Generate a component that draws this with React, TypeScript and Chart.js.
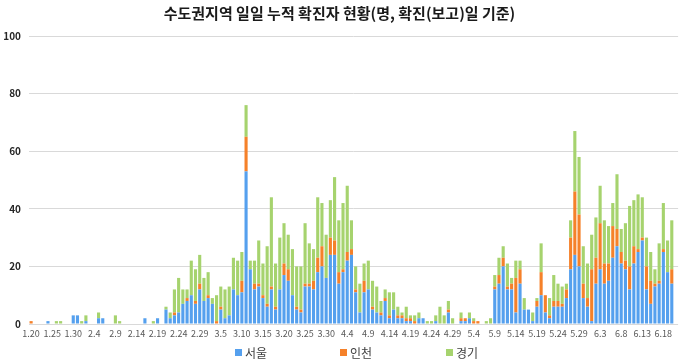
import React, { useEffect, useRef } from 'react';
import { Chart, registerables } from 'chart.js';

Chart.register(...registerables);

const chartTitle = '수도권지역 일일 누적 확진자 현황(명, 확진(보고)일 기준)';
const seriesNames = ['서울', '인천', '경기'];
const seriesColors = ['#55A0EE', '#F5812A', '#A6D36E'];

const categories = [
  '1.20', '1.21', '1.22', '1.23', '1.24', '1.25', '1.26', '1.27', '1.28', '1.29', '1.30', '1.31',
  '2.1', '2.2', '2.3', '2.4', '2.5', '2.6', '2.7', '2.8', '2.9', '2.10', '2.11', '2.12', '2.13', '2.14', '2.15', '2.16', '2.17', '2.18', '2.19', '2.20', '2.21', '2.22', '2.23', '2.24', '2.25', '2.26', '2.27', '2.28', '2.29',
  '3.1', '3.2', '3.3', '3.4', '3.5', '3.6', '3.7', '3.8', '3.9', '3.10', '3.11', '3.12', '3.13', '3.14', '3.15', '3.16', '3.17', '3.18', '3.19', '3.20', '3.21', '3.22', '3.23', '3.24', '3.25', '3.26', '3.27', '3.28', '3.29', '3.30', '3.31',
  '4.1', '4.2', '4.3', '4.4', '4.5', '4.6', '4.7', '4.8', '4.9', '4.10', '4.11', '4.12', '4.13', '4.14', '4.15', '4.16', '4.17', '4.18', '4.19', '4.20', '4.21', '4.22', '4.23', '4.24', '4.25', '4.26', '4.27', '4.28', '4.29', '4.30',
  '5.1', '5.2', '5.3', '5.4', '5.5', '5.6', '5.7', '5.8', '5.9', '5.10', '5.11', '5.12', '5.13', '5.14', '5.15', '5.16', '5.17', '5.18', '5.19', '5.20', '5.21', '5.22', '5.23', '5.24', '5.25', '5.26', '5.27', '5.28', '5.29', '5.30', '5.31',
  '6.1', '6.2', '6.3', '6.4', '6.5', '6.6', '6.7', '6.8', '6.9', '6.10', '6.11', '6.12', '6.13', '6.14', '6.15', '6.16', '6.17', '6.18', '6.19', '6.20', '6.21',
];

// 서울
const seoul = [
  0, 0, 0, 0, 1, 0, 0, 0, 0, 0, 3, 3,
  0, 1, 0, 0, 2, 2, 0, 0, 0, 0, 0, 0, 0, 0, 0, 2, 0, 0, 2, 0, 5, 2, 3, 4, 7, 8, 10, 7, 12,
  8, 9, 7, 0, 5, 2, 3, 12, 10, 11, 53, 19, 12, 13, 9, 6, 12, 5, 12, 17, 15, 10, 5, 4, 13, 13, 12, 18, 20, 16, 24,
  24, 14, 18, 22, 24, 11, 4, 11, 12, 5, 4, 3, 8, 2, 5, 2, 2, 1, 1, 0, 2, 2, 0, 0, 1, 0, 0, 4, 0,
  0, 1, 1, 2, 0, 0, 0, 0, 0, 12, 14, 20, 12, 12, 4, 14, 5, 5, 1, 6, 10, 4, 2, 6, 6, 6, 9, 19, 24, 20, 9, 6,
  1, 14, 19, 14, 15, 23, 27, 21, 19, 12, 21, 25, 29, 12, 7, 13, 14, 25, 18, 14, 0,
];

// 인천
const incheon = [
  1, 0, 0, 0, 0, 0, 0, 0, 0, 0, 0, 0,
  0, 0, 0, 0, 0, 0, 0, 0, 0, 0, 0, 0, 0, 0, 0, 0, 0, 0, 0, 0, 0, 0, 1, 0, 0, 1, 0, 1, 2,
  0, 1, 0, 1, 1, 0, 0, 0, 0, 4, 12, 0, 2, 1, 1, 1, 1, 1, 0, 4, 4, 0, 1, 1, 1, 1, 3, 5, 7, 0, 6,
  5, 4, 1, 3, 2, 1, 0, 4, 0, 1, 0, 1, 1, 1, 0, 1, 1, 1, 1, 1, 0, 0, 0, 0, 0, 0, 0, 1, 0,
  0, 1, 1, 0, 1, 1, 0, 0, 0, 1, 3, 3, 1, 2, 12, 5, 0, 0, 0, 2, 8, 6, 1, 2, 2, 1, 3, 11, 22, 18, 5, 3,
  18, 9, 16, 7, 6, 11, 6, 4, 3, 8, 6, 1, 1, 8, 8, 1, 1, 1, 0, 5, 0,
];

// 경기
const gyeonggi = [
  0, 0, 0, 0, 0, 0, 1, 1, 0, 0, 0, 0,
  1, 2, 0, 0, 2, 0, 0, 0, 3, 1, 0, 0, 0, 0, 0, 0, 0, 1, 0, 0, 1, 2, 8, 12, 5, 3, 12, 11, 10,
  8, 8, 2, 9, 7, 10, 10, 11, 12, 10, 11, 3, 8, 15, 11, 20, 31, 15, 18, 14, 12, 16, 14, 15, 21, 14, 11, 21, 15, 15, 13,
  22, 18, 23, 23, 10, 8, 10, 6, 10, 9, 9, 4, 3, 8, 6, 3, 1, 4, 1, 2, 2, 0, 1, 1, 2, 6, 3, 3, 2,
  0, 2, 0, 2, 1, 0, 0, 1, 2, 4, 6, 4, 8, 2, 6, 3, 4, 0, 3, 1, 10, 0, 6, 9, 6, 6, 2, 6, 21, 20, 13, 12,
  12, 14, 13, 15, 13, 8, 19, 8, 13, 21, 16, 19, 14, 10, 10, 5, 13, 16, 11, 17, 0,
];

const yMin = 0;
const yMax = 100;
const yStep = 20;

const FONT = "'Noto Sans CJK KR', 'Noto Sans', sans-serif";

export default function App() {
  const canvasRef = useRef<HTMLCanvasElement | null>(null);

  useEffect(() => {
    document.body.style.margin = '0';
    const canvas = canvasRef.current;
    if (!canvas) return;
    const values = [seoul, incheon, gyeonggi];
    const chart = new Chart(canvas, {
      type: 'bar',
      data: {
        labels: categories,
        datasets: seriesNames.map((name, k) => ({
          label: name,
          data: values[k],
          backgroundColor: seriesColors[k],
          borderWidth: 0,
          barPercentage: 0.74,
          categoryPercentage: 1,
        })),
      },
      options: {
        responsive: false,
        animation: false,
        layout: { padding: { top: 0, left: 0, right: 1, bottom: 19 } },
        plugins: {
          legend: { display: false },
          tooltip: { enabled: false },
          title: {
            display: true,
            text: chartTitle,
            color: '#1a1a1a',
            font: { family: FONT, size: 15, weight: 'bold' },
            padding: { top: 4, bottom: 14 },
          },
        },
        scales: {
          x: {
            stacked: true,
            grid: { display: false, drawTicks: false },
            border: { display: false },
            ticks: {
              autoSkip: false,
              maxRotation: 0,
              minRotation: 0,
              padding: 4,
              color: '#595959',
              font: { family: FONT, size: 9 },
              callback: (_v: any, i: number) => (i % 5 === 0 ? categories[i] : ''),
            },
            afterFit: (s: any) => {
              s.height = 20;
            },
          },
          y: {
            stacked: true,
            min: yMin,
            max: yMax,
            ticks: {
              stepSize: yStep,
              padding: 8,
              color: '#262626',
              font: { family: FONT, size: 10, weight: 'bold' },
            },
            grid: { color: '#D9D9D9', drawTicks: false, lineWidth: 1 },
            border: { display: false },
            afterFit: (s: any) => {
              s.width = 29;
            },
          },
        },
      },
    });
    return () => chart.destroy();
  }, []);

  const legendLeft = [235, 340, 446];

  return (
    <div style={{ position: 'relative', width: 680, height: 363, background: '#fff', fontFamily: FONT }}>
      <canvas ref={canvasRef} width={680} height={363} style={{ display: 'block' }} />
      {seriesNames.map((name, k) => (
        <div
          key={name}
          style={{
            position: 'absolute',
            left: legendLeft[k],
            top: 344,
            height: 16,
            display: 'flex',
            alignItems: 'center',
            fontSize: 12,
            color: '#404040',
            whiteSpace: 'nowrap',
          }}
        >
          <span style={{ display: 'inline-block', width: 7, height: 7, background: seriesColors[k], marginRight: 3 }} />
          <span>{name}</span>
        </div>
      ))}
    </div>
  );
}
